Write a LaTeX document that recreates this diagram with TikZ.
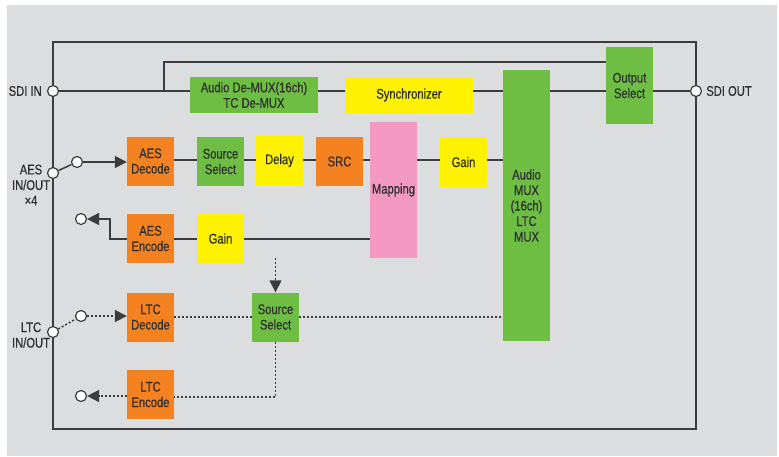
\documentclass[tikz,border=0pt]{standalone}
\usepackage{fontspec}
\setmainfont{Liberation Sans}[FakeStretch=0.8, FakeBold=0.5]
\usetikzlibrary{positioning, arrows.meta, calc}
\definecolor{bggray}{HTML}{DCDDDF}
\definecolor{linegray}{HTML}{3C3C3C}
\definecolor{txtgray}{HTML}{2E2E2E}
\definecolor{blkgreen}{HTML}{6FBE44}
\definecolor{blkorange}{HTML}{F58220}
\definecolor{blkyellow}{HTML}{FFF200}
\definecolor{blkpink}{HTML}{F49AC2}
\tikzset{
  block/.style={rectangle, minimum width=47pt, minimum height=49pt, inner sep=0pt, text centered, align=center, text=txtgray},
  greenbox/.style={block, fill=blkgreen},
  orangebox/.style={block, fill=blkorange},
  yellowbox/.style={block, fill=blkyellow},
  pinkbox/.style={block, fill=blkpink},
  port/.style={circle, draw=linegray, fill=white, line width=1.2pt, minimum size=11pt, inner sep=0pt},
  wire/.style={draw=linegray, line width=1.5pt},
  dotwire/.style={wire, dash pattern=on 2pt off 2pt},
  arrow/.style={-{Triangle[length=12pt,width=12pt]}},
  lbl/.style={align=center, text=txtgray, inner sep=0pt}
}

\begin{document}
\begin{tikzpicture}[
    x=1pt, y=-1pt,
    every node/.style={font=\fontsize{14}{15.5}\selectfont}
]
    \useasboundingbox (0,0) rectangle (779,456);
    \fill[bggray] (7,5) rectangle (777,456);
    \draw[wire] (53,42) rectangle (696,429);

    % SDI path
    \node (demux) [greenbox, minimum width=128pt, minimum height=36pt] at (254,95) {Audio De-MUX(16ch)\\TC De-MUX};
    \node (sync) [yellowbox, minimum width=128pt, minimum height=36pt] at (409,95) {Synchronizer};
    \node (amux) [greenbox, minimum height=271pt] at (526.5,205.5) {Audio\\MUX\\(16ch)\\LTC\\MUX};
    \node (outsel) [greenbox, minimum height=77pt] at (629.5,85.5) {Output\\Select};

    % AES path
    \node (aesdec) [orangebox] at (150.5,161) {AES\\Decode};
    \node (srcsel) [greenbox] at (220.5,161.5) {Source\\Select};
    \node (delay) [yellowbox] at (279.5,160.5) {Delay};
    \node (src) [orangebox] at (339.5,161.5) {SRC};
    \node (mapping) [pinkbox, minimum height=136pt] at (393.5,190) {Mapping};
    \node (gainin) [yellowbox] at (463.5,162) {Gain};
    \node (aesenc) [orangebox] at (150.5,238.5) {AES\\Encode};
    \node (gainout) [yellowbox] at (220.5,238.5) {Gain};

    % LTC path
    \node (ltcdec) [orangebox] at (150.5,317) {LTC\\Decode};
    \node (ltcsel) [greenbox] at (275.5,317) {Source\\Select};
    \node (ltcenc) [orangebox] at (150.5,394.5) {LTC\\Encode};

    % ports and labels
    \node (sdiin) [port] at (53,91) {};
    \node (sdiout) [port] at (696,91) {};
    \node (aesio) [port] at (53,173) {};
    \node (aesin) [port] at (77,162) {};
    \node (aesout) [port] at (81,219) {};
    \node (ltcio) [port] at (53,332) {};
    \node (ltcin) [port] at (81,316) {};
    \node (ltcout) [port] at (81,396) {};
    \node (sdiinlbl) [lbl, left=5pt of sdiin] {SDI IN};
    \node (sdioutlbl) [lbl, right=4pt of sdiout] {SDI OUT};
    \node (aeslbl) [lbl] at (31,185) {AES\\IN/OUT\\×4};
    \node (ltclbl) [lbl] at (31,335) {LTC\\IN/OUT};
    \coordinate (split) at (164,91);
    \coordinate (bend) at (110,239);
    \coordinate (ltcarr) at (275.5,258);
    \coordinate (ltcdown) at (275.5,397);

    \draw [wire] (sdiin) -- (sdiin -| demux.west);
    \draw [wire] (demux.east |- sdiin) -- (sync.west |- sdiin);
    \draw [wire] (sync.east |- sdiin) -- (amux.west |- sdiin);
    \draw [wire] (amux.east |- sdiin) -- (outsel.west |- sdiin);
    \draw [wire] (outsel.east |- sdiin) -- (sdiout);
    \draw [wire] (split) -- (split |- 0,62) -- (outsel.west |- 0,62);

    \draw [wire] (aesio) -- (aesin);
    \draw [wire, arrow] (aesin) -- (aesdec.west |- aesin);
    \draw [wire] (aesdec.east |- 0,160) -- (srcsel.west |- 0,160);
    \draw [wire] (srcsel.east |- 0,160) -- (delay.west |- 0,160);
    \draw [wire] (delay.east |- 0,160) -- (src.west |- 0,160);
    \draw [wire] (src.east |- 0,160) -- (mapping.west |- 0,160);
    \draw [wire] (mapping.east |- 0,160) -- (gainin.west |- 0,160);
    \draw [wire] (gainin.east |- 0,160) -- (amux.west |- 0,160);
    \draw [wire] (mapping.west |- bend) -- (gainout.east |- bend);
    \draw [wire] (gainout.west |- bend) -- (aesenc.east |- bend);
    \draw [wire, arrow] (aesenc.west |- bend) -- (bend) |- (aesout);

    \draw [dotwire] (ltcio) -- (ltcin);
    \draw [dotwire, arrow] (ltcin) -- (ltcdec.west |- ltcin);
    \draw [dotwire] (ltcdec) -- (ltcsel);
    \draw [dotwire] (ltcsel) -- (amux.west |- ltcsel);
    \draw [dotwire, arrow] (ltcarr) -- (ltcsel.north);
    \draw [dotwire] (ltcsel.south) -- (ltcdown) -- (ltcenc.east |- ltcdown);
    \draw [dotwire, arrow] (ltcenc.west |- ltcout) -- (ltcout);
\end{tikzpicture}
\end{document}
